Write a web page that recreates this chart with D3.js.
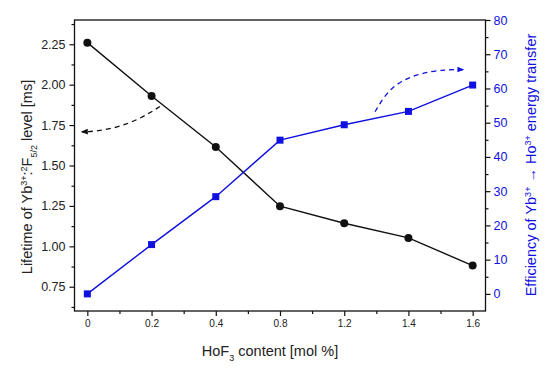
<!DOCTYPE html>
<html>
<head>
<meta charset="utf-8">
<script src="https://cdn.jsdelivr.net/npm/d3@7"></script>
<style>
  body { margin: 0; background: #fff; }
  svg { display: block; font-family: "Liberation Sans", Arial, sans-serif; }
</style>
</head>
<body>
<script>
'use strict';

// HoF3 content (categories, plotted equally spaced)
const contentLabels = ["0", "0.2", "0.4", "0.8", "1.2", "1.4", "1.6"];
// lifetime of Yb3+ 2F5/2 level [ms]
const lifetimeMs = [2.26, 1.93, 1.615, 1.248, 1.143, 1.052, 0.881];
// efficiency of Yb3+ -> Ho3+ energy transfer [%]
const efficiencyPct = [0, 14.4, 28.4, 44.9, 49.4, 53.3, 61.0];

const lifetimeTicks = [0.75, 1.00, 1.25, 1.50, 1.75, 2.00, 2.25];
const efficiencyTicks = [0, 10, 20, 30, 40, 50, 60, 70, 80];

// dashed annotation arrows, in data units (category index, axis value)
const lifetimeArrow = [[1.13, 1.865], [0.85, 1.795], [0.5, 1.738], [0.15, 1.712], [-0.08, 1.708]];
const efficiencyArrow = [[4.48, 53.2], [4.71, 60.5], [5.13, 64.4], [5.6, 65.6], [5.85, 65.5]];

(function() {
  const width = 550, height = 369;
  const left = 74.5, right = 485.5, top = 20, bottom = 311;
  const blue = "#1010e0";

  let svg = d3.select('body').append('svg')
    .attr('width', width)
    .attr('height', height);

  let x = d3.scaleLinear().domain([-0.2, 6.2]).range([left, right]);
  let yL = d3.scaleLinear().domain([0.6, 2.4]).range([bottom, top]);
  let yR = d3.scaleLinear().domain([-5, 80]).range([bottom, top]);

  // arrow heads
  let defs = svg.append('defs');
  [["headBlack", "#111"], ["headBlue", blue]].forEach(([id, c]) => {
    defs.append('marker')
      .attr('id', id)
      .attr('viewBox', '0 0 10 10')
      .attr('refX', 8).attr('refY', 5)
      .attr('markerWidth', 7).attr('markerHeight', 7)
      .attr('markerUnits', 'userSpaceOnUse')
      .attr('orient', 'auto')
      .append('path')
      .attr('d', 'M0,1 L10,5 L0,9 Z')
      .attr('fill', c);
  });

  // frame
  svg.append('rect')
    .attr('x', left).attr('y', top)
    .attr('width', right - left).attr('height', bottom - top)
    .attr('fill', 'none').attr('stroke', '#111').attr('stroke-width', 1.3);

  // x axis
  let xAxis = d3.axisBottom(x)
    .tickValues(d3.range(7))
    .tickFormat(i => contentLabels[i])
    .tickSize(5).tickPadding(4);
  let gx = svg.append('g').attr('transform', `translate(0,${bottom})`).call(xAxis);
  gx.append('g').call(d3.axisBottom(x).tickValues(d3.range(0.5, 6, 1)).tickSize(3).tickFormat(''));

  // left axis
  let gl = svg.append('g').attr('transform', `translate(${left},0)`)
    .call(d3.axisLeft(yL).tickValues(lifetimeTicks).tickFormat(d3.format('.2f')).tickSize(5).tickPadding(4));
  gl.append('g').call(d3.axisLeft(yL).tickValues(d3.range(0.625, 2.4, 0.25)).tickSize(3).tickFormat(''));

  // right axis
  let gr = svg.append('g').attr('transform', `translate(${right},0)`)
    .call(d3.axisRight(yR).tickValues(efficiencyTicks).tickSize(5).tickPadding(3));
  gr.append('g').call(d3.axisRight(yR).tickValues(d3.range(5, 80, 10)).tickSize(3).tickFormat(''));

  [gx, gl, gr].forEach(g => {
    g.selectAll('.domain').remove();
    g.selectAll('line').attr('stroke', '#111').attr('stroke-width', 1.2);
  });
  gx.selectAll('text').style('font-size', '10px').attr('fill', '#222');
  gl.selectAll('text').style('font-size', '12.5px').attr('fill', '#222');
  gr.selectAll('text').style('font-size', '12.5px').attr('fill', blue);

  // series lines
  let lineL = d3.line().x((d, i) => x(i)).y(d => yL(d));
  let lineR = d3.line().x((d, i) => x(i)).y(d => yR(d));

  svg.append('path').datum(lifetimeMs)
    .attr('d', lineL).attr('fill', 'none').attr('stroke', '#111').attr('stroke-width', 1.4);
  svg.append('path').datum(efficiencyPct)
    .attr('d', lineR).attr('fill', 'none').attr('stroke', blue).attr('stroke-width', 1.4);

  svg.selectAll('.dot').data(lifetimeMs).enter()
    .append('circle')
    .attr('cx', (d, i) => x(i)).attr('cy', d => yL(d))
    .attr('r', 4).attr('fill', '#111');

  svg.selectAll('.sq').data(efficiencyPct).enter()
    .append('rect')
    .attr('x', (d, i) => x(i) - 3.5).attr('y', d => yR(d) - 3.5)
    .attr('width', 7).attr('height', 7).attr('fill', blue);

  // dashed arrows
  svg.append('path').datum(lifetimeArrow)
    .attr('d', d3.line().curve(d3.curveBasis).x(d => x(d[0])).y(d => yL(d[1])))
    .attr('fill', 'none').attr('stroke', '#111').attr('stroke-width', 1.3)
    .attr('stroke-dasharray', '5,4').attr('marker-end', 'url(#headBlack)');
  svg.append('path').datum(efficiencyArrow)
    .attr('d', d3.line().curve(d3.curveBasis).x(d => x(d[0])).y(d => yR(d[1])))
    .attr('fill', 'none').attr('stroke', blue).attr('stroke-width', 1.3)
    .attr('stroke-dasharray', '5,4').attr('marker-end', 'url(#headBlue)');

  // axis titles
  function addParts(t, parts) {
    parts.forEach(p => {
      let s = t.append('tspan').text(p[0]);
      if (p[1] === 'sup') s.attr('baseline-shift', 'super').style('font-size', '9px');
      if (p[1] === 'sub') s.attr('baseline-shift', 'sub').style('font-size', '9px');
    });
  }

  let tx = svg.append('text')
    .attr('x', (left + right) / 2 - 10).attr('y', 356)
    .attr('text-anchor', 'middle').style('font-size', '14.5px').attr('fill', '#222');
  addParts(tx, [["HoF"], ["3", "sub"], [" content [mol %]"]]);

  let tl = svg.append('text')
    .attr('transform', 'translate(32,177)rotate(-90)')
    .attr('text-anchor', 'middle').style('font-size', '14.5px').attr('fill', '#222');
  addParts(tl, [["Lifetime of Yb"], ["3+", "sup"], [":"], ["2", "sup"], ["F"], ["5/2", "sub"], [" level [ms]"]]);

  let tr = svg.append('text')
    .attr('transform', 'translate(536,165)rotate(-90)')
    .attr('text-anchor', 'middle').style('font-size', '14.5px').attr('fill', blue);
  addParts(tr, [["Efficiency of Yb"], ["3+", "sup"], [" \u2192 Ho"], ["3+", "sup"], [" energy transfer"]]);
})();
</script>
</body>
</html>
